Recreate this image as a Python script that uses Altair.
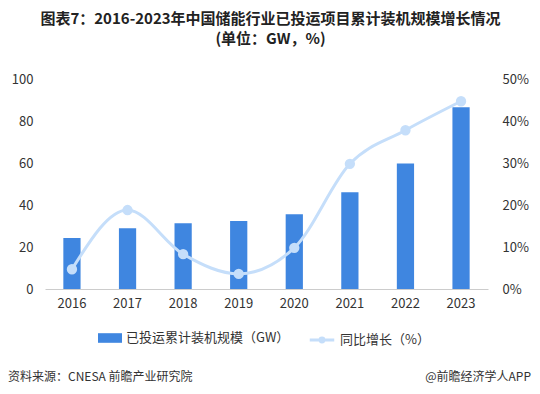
import altair as alt
import pandas as pd

years = ["2016", "2017", "2018", "2019", "2020", "2021", "2022", "2023"]
capacity = [24.3, 28.9, 31.3, 32.4, 35.6, 46.1, 59.8, 86.5]
growth = [4.7, 18.8, 8.3, 3.6, 9.8, 29.8, 37.8, 44.7]

bar_name = "已投运累计装机规模（GW）"
line_name = "同比增长（%）"

df = pd.DataFrame({"year": years, "cap": capacity, "g": [v / 100 for v in growth]})
df["bar_s"] = bar_name
df["line_s"] = line_name

FONT = "Noto Sans CJK SC"
xenc = alt.X("year:N", sort=years, title=None,
             scale=alt.Scale(paddingInner=0.69, paddingOuter=0.33),
             axis=alt.Axis(labelAngle=0, labelFontSize=13, labelColor="#333", labelFont=FONT,
                           domainColor="#ccc", ticks=False, labelPadding=8))

bars = alt.Chart(df).mark_bar(color="#3F86E0").encode(
    x=xenc,
    y=alt.Y("cap:Q", title=None, scale=alt.Scale(domain=[0, 100]),
            axis=alt.Axis(values=[0, 20, 40, 60, 80, 100], grid=False, domain=False, ticks=False,
                          labelFontSize=13, labelColor="#333", labelFont=FONT, labelPadding=12)),
    fill=alt.Fill("bar_s:N", scale=alt.Scale(domain=[bar_name], range=["#3F86E0"]),
                  legend=alt.Legend(title=None, orient="none", legendX=53, legendY=247,
                                    symbolType="M-1,-0.4L1,-0.4L1,0.4L-1,0.4Z", symbolSize=576,
                                    labelFontSize=13, labelLimit=300, symbolOffset=0,
                                    labelFont=FONT, labelColor="#333", symbolStrokeWidth=0)),
)

line = alt.Chart(df).mark_line(interpolate="monotone", strokeWidth=3,
                               point=alt.OverlayMarkDef(filled=True, size=70, color="#C5DEFA")).encode(
    x=xenc,
    y=alt.Y("g:Q", title=None, scale=alt.Scale(domain=[0, 0.5]),
            axis=alt.Axis(orient="right", format="%", values=[0, 0.1, 0.2, 0.3, 0.4, 0.5], grid=False,
                          domain=False, ticks=False, labelFontSize=13, labelColor="#333",
                          labelFont=FONT, labelPadding=14)),
    stroke=alt.Stroke("line_s:N", scale=alt.Scale(domain=[line_name], range=["#C5DEFA"]),
                      legend=alt.Legend(title=None, orient="none", legendX=263, legendY=247,
                                        symbolType="M-1,0L1,0M0.16,0A0.16,0.16 0 1 1 -0.16,0A0.16,0.16 0 1 1 0.16,0",
                                        symbolSize=600, symbolStrokeWidth=3, symbolFillColor="#C5DEFA",
                                        labelFontSize=13, labelLimit=300, labelFont=FONT,
                                        labelColor="#333")),
)

foot = pd.DataFrame({"t": ["资料来源：CNESA 前瞻产业研究院"]})
foot_l = alt.Chart(foot).mark_text(align="left", baseline="middle", fontSize=12, font=FONT,
                                   color="#333").encode(
    x=alt.value(-37), y=alt.value(298), text="t:N")
foot2 = pd.DataFrame({"t": ["@前瞻经济学人APP"]})
foot_r = alt.Chart(foot2).mark_text(align="right", baseline="middle", fontSize=12, font=FONT,
                                    color="#333").encode(
    x=alt.value(486), y=alt.value(298), text="t:N")

chart = alt.layer(bars, line, foot_l, foot_r).resolve_scale(
    y="independent", fill="independent", stroke="independent"
).resolve_legend(fill="independent", stroke="independent").properties(
    width=443, height=210,
    autosize=alt.AutoSizeParams(type="none"),
    padding={"left": 37, "top": 71, "right": 44, "bottom": 97},
    title=alt.Title(["图表7：2016-2023年中国储能行业已投运项目累计装机规模增长情况", "(单位：GW，%)"],
                    anchor="middle", fontSize=15, fontWeight="bold", font=FONT, color="#222",
                    lineHeight=20, offset=26, dx=4),
).configure_view(stroke=None)

chart.save("out.html", embed_options={"renderer": "svg", "actions": False})
